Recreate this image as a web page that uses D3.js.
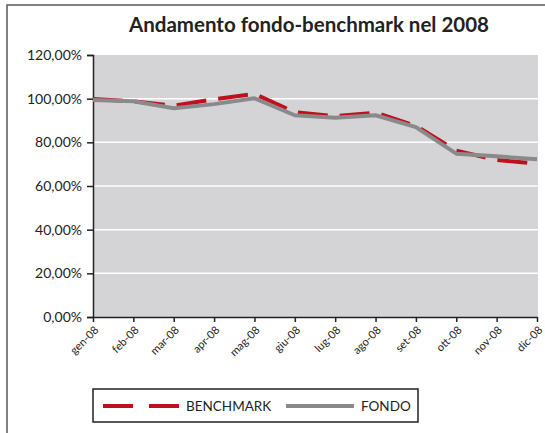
<!DOCTYPE html>
<html>
<head>
<meta charset="utf-8">
<script src="https://cdn.jsdelivr.net/npm/d3@7"></script>
<style>
  body { margin: 0; background: #fff; }
  svg { display: block; font-family: Lato, "Open Sans", sans-serif; }
</style>
</head>
<body>
<div id="chart"></div>
<script>
// dati
const months = ["gen-08","feb-08","mar-08","apr-08","mag-08","giu-08","lug-08","ago-08","set-08","ott-08","nov-08","dic-08"];
const benchmark = [99.8, 98.8, 96.8, 99.7, 102.2, 93.8, 92.0, 93.6, 87.5, 76.2, 71.9, 70.2];
const fondo = [99.4, 98.8, 95.6, 97.5, 100.2, 92.4, 91.3, 92.4, 87.0, 74.8, 73.6, 72.2];
const yTicks = [0, 20, 40, 60, 80, 100, 120];

const width = 545, height = 433;
const margin = { left: 93, right: 8, top: 55, bottom: 116 };

const svg = d3.select("#chart").append("svg")
  .attr("width", width)
  .attr("height", height);

// cornice esterna
svg.append("path")
  .attr("d", `M7,${height} L7,5 L${width},5`)
  .attr("fill", "none")
  .attr("stroke", "#555")
  .attr("stroke-width", 1.5);

// titolo
svg.append("text")
  .attr("x", 309)
  .attr("y", 32)
  .attr("text-anchor", "middle")
  .attr("font-size", "20.5px")
  .attr("font-weight", "bold")
  .attr("fill", "#222")
  .text("Andamento fondo-benchmark nel 2008");

const x = d3.scalePoint()
  .domain(months)
  .range([margin.left, 537]);

const y = d3.scaleLinear()
  .domain([0, 120])
  .range([height - margin.bottom, margin.top]);

// area del grafico
svg.append("rect")
  .attr("x", margin.left)
  .attr("y", y(120))
  .attr("width", 538 - margin.left)
  .attr("height", y(0) - y(120))
  .attr("fill", "#d4d4d6");

// griglia
svg.append("g")
  .selectAll("line")
  .data(yTicks.filter(d => d > 0 && d < 120))
  .enter()
  .append("line")
  .attr("x1", margin.left)
  .attr("x2", 538)
  .attr("y1", d => y(d))
  .attr("y2", d => y(d))
  .attr("stroke", "#fff")
  .attr("stroke-width", 1.5);

// asse y
const yAxis = svg.append("g")
  .attr("transform", `translate(${margin.left},0)`)
  .call(d3.axisLeft(y)
    .tickValues(yTicks)
    .tickSize(6)
    .tickPadding(5)
    .tickFormat(d => d3.format(".2f")(d).replace(".", ",") + "%"));
yAxis.select(".domain").attr("stroke", "#222").attr("stroke-width", 1.5);
yAxis.selectAll(".tick line").attr("stroke", "#222").attr("stroke-width", 1.5);
yAxis.selectAll("text")
  .attr("font-size", "14px")
  .attr("fill", "#222")
  .attr("font-family", "Lato, sans-serif");

// asse x
const xAxis = svg.append("g")
  .attr("transform", `translate(0,${y(0)})`)
  .call(d3.axisBottom(x).tickSize(5).tickSizeOuter(0));
xAxis.select(".domain").attr("stroke", "#222").attr("stroke-width", 1.5);
xAxis.selectAll(".tick line").attr("stroke", "#222").attr("stroke-width", 1.5);
xAxis.selectAll("text")
  .attr("font-size", "11px")
  .attr("fill", "#222")
  .attr("font-family", "Lato, sans-serif")
  .attr("text-anchor", "end")
  .attr("dy", "0")
  .attr("transform", "translate(0,8) rotate(-45)");

const line = d3.line()
  .x((d, i) => x(months[i]))
  .y(d => y(d));

svg.append("path")
  .datum(benchmark)
  .attr("d", line)
  .attr("fill", "none")
  .attr("stroke", "#c0101e")
  .attr("stroke-width", 4)
  .attr("stroke-dasharray", "30,12");

svg.append("path")
  .datum(fondo)
  .attr("d", line)
  .attr("fill", "none")
  .attr("stroke", "#8a8a8c")
  .attr("stroke-width", 4)
  .attr("stroke-linejoin", "round");

// legenda
const legend = svg.append("g").attr("transform", "translate(93,389)");
legend.append("rect")
  .attr("width", 325)
  .attr("height", 33)
  .attr("fill", "#fff")
  .attr("stroke", "#222")
  .attr("stroke-width", 1.5);
legend.append("line")
  .attr("x1", 10).attr("x2", 87)
  .attr("y1", 17).attr("y2", 17)
  .attr("stroke", "#c0101e")
  .attr("stroke-width", 4)
  .attr("stroke-dasharray", "30,16");
legend.append("text")
  .attr("x", 93).attr("y", 22)
  .attr("font-size", "13.5px")
  .attr("fill", "#222")
  .text("BENCHMARK");
legend.append("line")
  .attr("x1", 193).attr("x2", 261)
  .attr("y1", 17).attr("y2", 17)
  .attr("stroke", "#8a8a8c")
  .attr("stroke-width", 4);
legend.append("text")
  .attr("x", 268).attr("y", 22)
  .attr("font-size", "13.5px")
  .attr("fill", "#222")
  .text("FONDO");
</script>
</body>
</html>
